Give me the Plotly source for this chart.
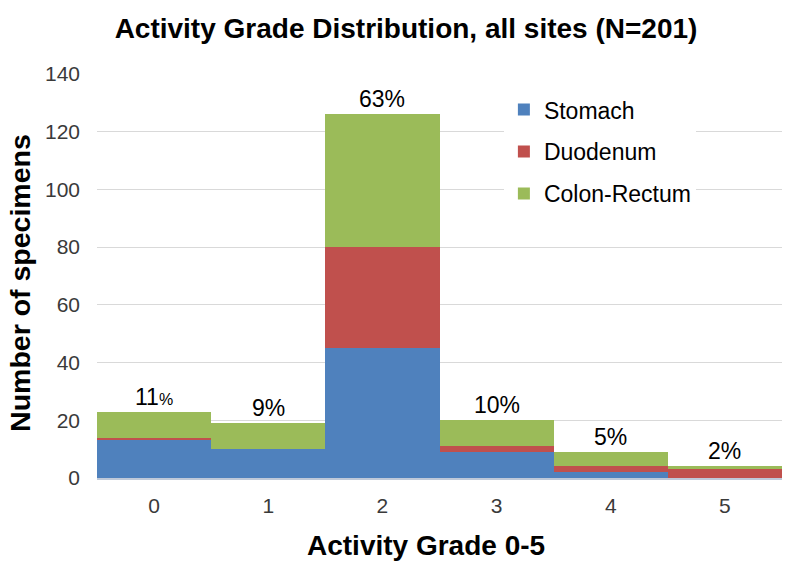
import plotly.graph_objects as go

grades = ["0", "1", "2", "3", "4", "5"]
stomach = [13, 10, 45, 9, 2, 0]
duodenum = [1, 0, 35, 2, 2, 3]
colon_rectum = [9, 9, 46, 9, 5, 1]
pct_labels = ["11<span style='font-size:16px'>%</span>", "9%", "63%", "10%", "5%", "2%"]

FONT = "Liberation Sans, Arial, sans-serif"

series = [("Stomach", stomach, "#4F81BD"),
          ("Duodenum", duodenum, "#C0504D"),
          ("Colon-Rectum", colon_rectum, "#9BBB59")]

fig = go.Figure()
for name, vals, col in series:
    fig.add_trace(go.Bar(x=grades, y=vals, name=name, legendgroup=name,
                         marker=dict(color=col, line=dict(width=0)),
                         hoverinfo="skip"))

totals = [a + b + c for a, b, c in zip(stomach, duodenum, colon_rectum)]
for g, t, lab in zip(grades, totals, pct_labels):
    fig.add_annotation(x=g, y=t, text=lab, showarrow=False, yanchor="bottom",
                       yshift=0, font=dict(size=23, color="#000000", family=FONT))

# axis titles as annotations for exact placement
fig.add_annotation(xref="paper", yref="paper", x=-0.1117, y=0.484,
                   text="<b>Number of specimens</b>", textangle=-90,
                   showarrow=False, xanchor="center", yanchor="middle",
                   font=dict(size=28.5, color="#000000", family=FONT))
fig.add_annotation(xref="paper", yref="paper", x=0.481, y=-0.168,
                   text="<b>Activity Grade 0-5</b>",
                   showarrow=False, xanchor="center", yanchor="middle",
                   font=dict(size=28, color="#000000", family=FONT))

fig.update_layout(
    width=800, height=580,
    barmode="stack", bargap=0,
    plot_bgcolor="white", paper_bgcolor="white",
    margin=dict(l=97, r=18, t=74, b=102, autoexpand=False),
    font=dict(family=FONT, color="#000000"),
    title=dict(text="<b>Activity Grade Distribution, all sites (N=201)</b>",
               x=0.5075, xanchor="center", y=0.9517, yanchor="middle",
               font=dict(size=28, color="#000000")),
    legend=dict(x=0.594, y=0.965, xanchor="left", yanchor="top",
                bgcolor="white", font=dict(size=23, color="#000000"),
                traceorder="grouped", tracegroupgap=9, itemwidth=30),
    xaxis=dict(automargin=False,
               showline=True, linecolor="#BFC9D9", linewidth=1.5,
               tickfont=dict(size=21, color="#3a3a3a"), ticks="", ticklabelstandoff=8),
    yaxis=dict(automargin=False,
               range=[0, 140], dtick=20, showgrid=True, gridcolor="#D9D9D9",
               zeroline=False, showline=False,
               tickfont=dict(size=21, color="#3a3a3a"), ticks="", ticklabelstandoff=16),
)

fig.write_html("out.html", config={"displayModeBar": False},
               post_script="document.body.style.margin='0';")
